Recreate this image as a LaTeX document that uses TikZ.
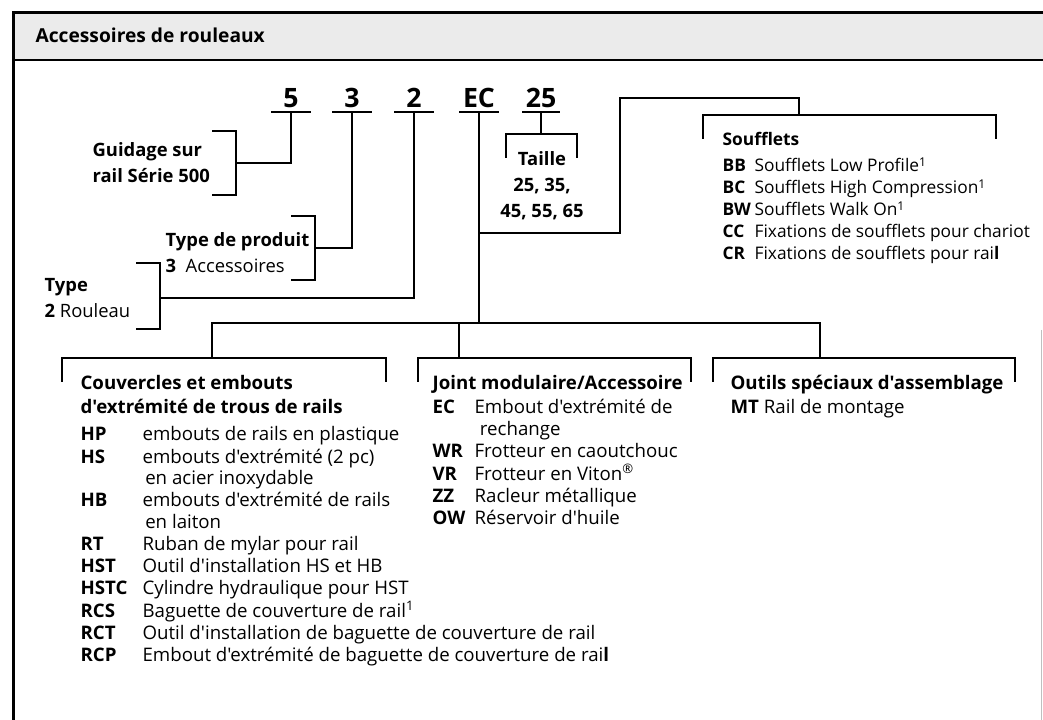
\documentclass[tikz,border=0pt]{standalone}
\usepackage{fontspec}
\newfontfamily\frut{Open Sans}
\usepackage{tikz}
\definecolor{headgray}{gray}{0.92}

\begin{document}
\begin{tikzpicture}[x=0.75pt, y=-0.75pt, line width=0.9pt]

  \tikzset{code/.style={font=\frut\fontsize{20}{23}\selectfont\bfseries,
                        anchor=base, inner xsep=0pt, inner ysep=2.25pt,
                        text depth=0pt, minimum width=29pt},
           txt/.style={anchor=base west, inner sep=0pt,
                       font=\frut\fontsize{14}{16.5}\selectfont},
           small/.style={txt, font=\frut\fontsize{13}{16.5}\selectfont},
           bold/.style={txt, font=\frut\fontsize{13.8}{19.5}\selectfont\bfseries}}

  \useasboundingbox (0,0) rectangle (1043,720);

  % frame and heading
  \fill[headgray] (13,13) rectangle (1043,60);
  \draw (13,60) -- (1043,60);
  \draw[line width=2.25pt] (13,720) -- (13,13) -- (1043,13);
  \draw[gray!50, line width=0.6pt] (1041,330) -- (1041,720);
  \node[txt, font=\frut\fontsize{14.4}{17}\selectfont\bfseries] (title)
    at (35,43) {Accessoires de rouleaux};

  % order code
  \foreach \n/\x/\w in {5/291/29, 3/352/29, 2/414/29, EC/479/29, 25/541/27} {
    \node[code, minimum width=\w pt] (c\n) at (\x,108) {\n};
    \draw[line width=1.5pt] (c\n.south west) -- (c\n.south east);
  }

  % side brackets
  \foreach \xa/\xb/\ya/\yb in {212/236/131/195, 291/315/216/280, 136/160/263/329}
    \draw (\xa,\ya) -| (\xb,\yb) -- (\xa,\yb);
  % top brackets
  \foreach \xa/\xb/\y in {506/577/134, 703/996/115, 62/386/358, 418/691/358, 713/1015/358}
    \draw (\xa,\y+24) |- (\xb,\y) -- (\xb,\y+24);

  \coordinate (gj) at (236,163);
  \coordinate (pj) at (315,248);
  \coordinate (tj) at (160,298);
  \coordinate (tt) at (541,134);
  \coordinate (split) at (479,233);
  \coordinate (hop) at (620,98);
  \coordinate (st) at (799,115);
  \coordinate (bus) at (479,323);
  \coordinate (ba) at (212,358);
  \coordinate (bb) at (459,358);
  \coordinate (bc) at (820,358);

  \draw (c5.south) |- (gj);
  \draw (c3.south) |- (pj);
  \draw (c2.south) |- (tj);
  \draw (c25.south) -- (tt);
  \draw (cEC.south) -- (bus);
  \draw (split) -| (hop) -| (st);
  \draw (ba) -- (ba |- bus) -- (bc |- bus) -- (bc);
  \draw (bb) -- (bb |- bus);

  % labels of the code
  \node[bold] (guid) at (92,157) {\begin{tabular}[t]{@{}l@{}}
    Guidage sur\\rail Série 500\end{tabular}};
  \node[bold] (prod) at (165,247) {\begin{tabular}[t]{@{}l@{}}
    Type de produit\\3\ \ {\mdseries Accessoires}\end{tabular}};
  \node[bold] (type) at (44,292) {\begin{tabular}[t]{@{}l@{}}
    Type\\2 {\mdseries Rouleau}\end{tabular}};
  \node[bold, anchor=base] (taille) at (542,166) {\begin{tabular}[t]{@{}c@{}}
    Taille\\25, 35,\\45, 55, 65\end{tabular}};

  % soufflets
  \node[small] (souf) at (722,146) {\begin{tabular}[t]{@{}p{24pt}@{}l@{}}
    \multicolumn{2}{@{}l@{}}{\bfseries Soufflets}\\[3pt]
    \bfseries BB & Soufflets Low Profile\textsuperscript{1}\\
    \bfseries BC & Soufflets High Compression\textsuperscript{1}\\
    \bfseries BW & Soufflets Walk On\textsuperscript{1}\\
    \bfseries CC & Fixations de soufflets pour chariot\\
    \bfseries CR & Fixations de soufflets pour rai\textbf{l}
  \end{tabular}};

  % accessory groups
  \node[txt] (couv) at (80,389) {\begin{tabular}[t]{@{}p{46.5pt}@{}l@{}}
    \multicolumn{2}{@{}l@{}}{\bfseries Couvercles et embouts}\\[2pt]
    \multicolumn{2}{@{}l@{}}{\bfseries d'extrémité de trous de rails}\\[4pt]
    \bfseries HP & embouts de rails en plastique\\
    \bfseries HS & embouts d'extrémité (2 pc)\\
                 & \hspace{2pt}en acier inoxydable\\
    \bfseries HB & embouts d'extrémité de rails\\
                 & \hspace{2pt}en laiton\\
    \bfseries RT & Ruban de mylar pour rail\\
    \bfseries HST & Outil d'installation HS et HB\\
    \bfseries HSTC & Cylindre hydraulique pour HST\\
    \bfseries RCS & Baguette de couverture de rail\textsuperscript{1}\\
    \bfseries RCT & Outil d'installation de baguette de couverture de rail\\
    \bfseries RCP & Embout d'extrémité de baguette de couverture de rai\textbf{l}
  \end{tabular}};

  \node[txt] (joint) at (432,389) {\begin{tabular}[t]{@{}p{31.5pt}@{}l@{}}
    \multicolumn{2}{@{}l@{}}{\bfseries Joint modulaire/Accessoire}\\[2pt]
    \bfseries EC & Embout d'extrémité de\\
                 & \hspace{4pt}rechange\\
    \bfseries WR & Frotteur en caoutchouc\\
    \bfseries VR & Frotteur en Viton\textsuperscript{®}\\
    \bfseries ZZ & Racleur métallique\\
    \bfseries OW & Réservoir d'huile
  \end{tabular}};

  \node[txt] (outils) at (730,389) {\begin{tabular}[t]{@{}p{25pt}@{}l@{}}
    \multicolumn{2}{@{}l@{}}{\bfseries Outils spéciaux d'assemblage}\\[2pt]
    \bfseries MT & Rail de montage
  \end{tabular}};

\end{tikzpicture}
\end{document}
